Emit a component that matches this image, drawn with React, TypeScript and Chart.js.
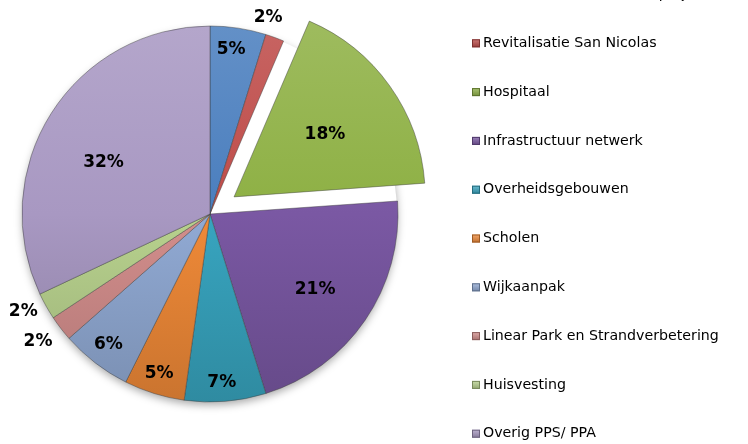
import React, { useEffect, useRef } from "react";
import { Chart, registerables } from "chart.js";

Chart.register(...registerables);

const categories = [
  "Revitalisatie Binnenstad projecten",
  "Revitalisatie San Nicolas",
  "Hospitaal",
  "Infrastructuur netwerk",
  "Overheidsgebouwen",
  "Scholen",
  "Wijkaanpak",
  "Linear Park en Strandverbetering",
  "Huisvesting",
  "Overig PPS/ PPA",
];
const shares = [4.8, 1.6, 17.5, 21.3, 7.0, 5.2, 6.1, 2.2, 2.3, 32.0];
const sliceColors = [
  "#4A7EBE",
  "#BE4B48",
  "#8FB146",
  "#7A58A3",
  "#38A5C0",
  "#F08A38",
  "#91AAD4",
  "#D38E8C",
  "#B8D28E",
  "#A898C2",
];
const explode = [0, 0, 118, 0, 0, 0, 0, 0, 0, 0];
const labelDistance = [0.88, 1.09, 0.585, 0.69, 0.9, 0.89, 0.88, 1.14, 1.12, 0.63];
const labelAngleShift = [-1.3, -3.7, 1.2, 1.5, 0.7, 0.4, 0.3, 0.8, 1.8, -6.4];

const PIE_RADIUS = 188;
const FONT = "'DejaVu Sans', Verdana, sans-serif";

function shade(hex: string, amt: number) {
  const n = parseInt(hex.slice(1), 16);
  let r = n >> 16, g = (n >> 8) & 255, b = n & 255;
  if (amt >= 0) {
    r += (255 - r) * amt; g += (255 - g) * amt; b += (255 - b) * amt;
  } else {
    r *= 1 + amt; g *= 1 + amt; b *= 1 + amt;
  }
  return `rgb(${Math.round(r)},${Math.round(g)},${Math.round(b)})`;
}

const shadowPlugin = {
  id: "pieShadow",
  beforeDatasetsDraw(chart: any) {
    const meta = chart.getDatasetMeta(0);
    const arc = meta.data[0];
    if (!arc) return;
    const { x, y, outerRadius } = arc.getProps(["x", "y", "outerRadius"], true);
    const ctx = chart.ctx;
    ctx.save();
    ctx.shadowColor = "rgba(0,0,0,0.35)";
    ctx.shadowBlur = 8;
    ctx.shadowOffsetY = 4;
    ctx.fillStyle = "#ffffff";
    ctx.beginPath();
    ctx.arc(x, y, outerRadius - 1, 0, Math.PI * 2);
    ctx.fill();
    ctx.restore();
  },
};

const labelPlugin = {
  id: "pctLabels",
  afterDatasetsDraw(chart: any) {
    const ctx = chart.ctx;
    const meta = chart.getDatasetMeta(0);
    const data = chart.data.datasets[0].data as number[];
    const total = data.reduce((a, b) => a + b, 0);
    ctx.save();
    ctx.font = `bold 17px ${FONT}`;
    ctx.fillStyle = "#000000";
    ctx.textAlign = "center";
    ctx.textBaseline = "middle";
    meta.data.forEach((arc: any, i: number) => {
      const { x, y, startAngle, endAngle, outerRadius } = arc.getProps(
        ["x", "y", "startAngle", "endAngle", "outerRadius"],
        true
      );
      const mid = (startAngle + endAngle) / 2;
      const off = explode[i] / 4;
      const cx = x + Math.cos(mid) * off;
      const cy = y + Math.sin(mid) * off;
      const a = mid + (labelAngleShift[i] * Math.PI) / 180;
      const d = labelDistance[i] * outerRadius;
      const pct = Math.round((data[i] / total) * 100);
      ctx.fillText(`${pct}%`, cx + Math.cos(a) * d, cy + Math.sin(a) * d);
    });
    ctx.restore();
  },
};

const legendPlugin = {
  id: "sideLegend",
  afterDraw(chart: any) {
    const ctx = chart.ctx;
    const labels = chart.data.labels as string[];
    const x0 = 472;
    const y0 = -5.5;
    const step = 48.8;
    ctx.save();
    ctx.font = `14.2px ${FONT}`;
    ctx.textAlign = "left";
    ctx.textBaseline = "middle";
    labels.forEach((label, i) => {
      const y = y0 + i * step;
      const c = sliceColors[i];
      const g = ctx.createLinearGradient(0, y - 4, 0, y + 4);
      g.addColorStop(0, shade(c, 0.25));
      g.addColorStop(1, shade(c, -0.2));
      ctx.fillStyle = g;
      ctx.fillRect(x0, y - 4, 8, 8);
      ctx.strokeStyle = shade(c, -0.35);
      ctx.lineWidth = 1;
      ctx.strokeRect(x0 + 0.5, y - 3.5, 7, 7);
      ctx.fillStyle = "#000000";
      ctx.fillText(label, x0 + 11, y);
    });
    ctx.restore();
  },
};

export default function App() {
  const canvasRef = useRef<HTMLCanvasElement | null>(null);

  useEffect(() => {
    const canvas = canvasRef.current;
    if (!canvas) return;
    const chart = new Chart(canvas, {
      type: "pie",
      data: {
        labels: categories,
        datasets: [
          {
            data: shares,
            backgroundColor: (c: any) => {
              const base = sliceColors[c.dataIndex] || "#888888";
              const area = c.chart.chartArea;
              if (!area) return base;
              const cy = (area.top + area.bottom) / 2;
              const g = c.chart.ctx.createLinearGradient(0, cy - PIE_RADIUS, 0, cy + PIE_RADIUS);
              g.addColorStop(0, shade(base, 0.14));
              g.addColorStop(0.5, base);
              g.addColorStop(1, shade(base, -0.16));
              return g;
            },
            borderColor: "rgba(60,60,60,0.45)",
            borderWidth: 1,
            offset: explode,
          },
        ],
      },
      options: {
        responsive: false,
        animation: false,
        events: [],
        radius: PIE_RADIUS,
        layout: { padding: { left: 0, right: 328, top: 0, bottom: 16 } },
        plugins: {
          legend: { display: false },
          tooltip: { enabled: false },
          title: { display: false },
        },
      } as any,
      plugins: [shadowPlugin, labelPlugin, legendPlugin],
    });
    return () => chart.destroy();
  }, []);

  return (
    <div style={{ position: "fixed", left: 0, top: 0, width: 748, height: 444, background: "#ffffff" }}>
      <canvas ref={canvasRef} width={748} height={444} style={{ display: "block" }} />
    </div>
  );
}
